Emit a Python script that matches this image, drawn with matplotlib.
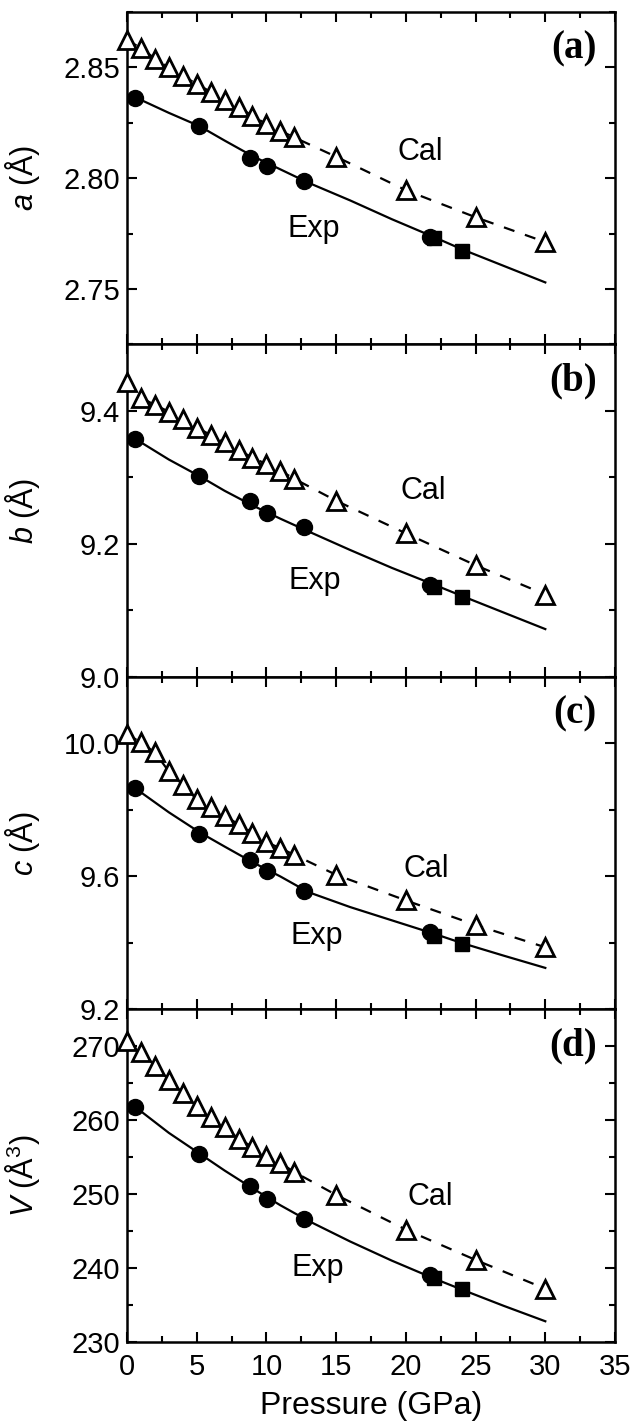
import numpy as np
import matplotlib
matplotlib.use('Agg')
from matplotlib import pyplot as plt
from matplotlib.ticker import MultipleLocator, FormatStrFormatter

plt.rcParams['font.family'] = ['Liberation Sans', 'DejaVu Sans']
plt.rcParams['mathtext.fontset'] = 'custom'
plt.rcParams['mathtext.rm'] = 'Liberation Sans'
plt.rcParams['mathtext.it'] = 'Liberation Sans:italic'

# calculated (open triangles)
p_cal = [0, 1, 2, 3, 4, 5, 6, 7, 8, 9, 10, 11, 12, 15, 20, 25, 30]
a_cal = [2.8624, 2.8587, 2.8540, 2.8500, 2.8462, 2.8425, 2.8390, 2.8354, 2.8320,
         2.8282, 2.8244, 2.8214, 2.8184, 2.8097, 2.7946, 2.7824, 2.7712]
b_cal = [9.444, 9.420, 9.409, 9.399, 9.388, 9.375, 9.364, 9.353, 9.341,
         9.330, 9.320, 9.310, 9.298, 9.265, 9.216, 9.168, 9.124]
c_cal = [10.028, 10.003, 9.973, 9.916, 9.876, 9.832, 9.808, 9.782, 9.757,
         9.732, 9.703, 9.685, 9.665, 9.605, 9.528, 9.454, 9.387]
v_cal = [270.7, 269.3, 267.4, 265.5, 263.7, 261.9, 260.5, 259.1, 257.5,
         256.4, 255.1, 254.2, 253.0, 249.9, 245.2, 241.1, 237.2]

# experiment (filled circles)
p_exp = [0.6, 5.2, 8.8, 10.05, 12.7, 21.7]
a_exp = [2.8361, 2.8234, 2.8091, 2.8056, 2.7988, 2.7736]
b_exp = [9.358, 9.302, 9.265, 9.246, 9.225, 9.138]
c_exp = [9.865, 9.728, 9.650, 9.617, 9.555, 9.433]
v_exp = [261.8, 255.5, 251.1, 249.3, 246.7, 239.0]

# experiment (filled squares)
p_sq = [22.0, 24.0]
a_sq = [2.7730, 2.7672]
b_sq = [9.135, 9.121]
c_sq = [9.420, 9.398]
v_sq = [238.6, 237.2]

# fitted curve
p_fit = [0.6, 3, 5.2, 7, 9, 11, 13, 16, 19, 22, 24, 27, 30]
a_fit = [2.8365, 2.8295, 2.8235, 2.8170, 2.8100, 2.8040, 2.7980, 2.7900,
         2.7815, 2.7735, 2.7680, 2.7605, 2.7530]
b_fit = [9.358, 9.327, 9.302, 9.280, 9.258, 9.238, 9.219, 9.191,
         9.164, 9.139, 9.122, 9.097, 9.072]
c_fit = [9.865, 9.793, 9.733, 9.690, 9.643, 9.600, 9.553, 9.508,
         9.468, 9.428, 9.400, 9.362, 9.325]
v_fit = [261.8, 258.3, 255.5, 253.2, 250.8, 248.5, 246.4, 243.6,
         241.0, 238.6, 237.1, 234.9, 232.8]

ylabels = [r'$a$ (Å)', r'$b$ (Å)', r'$c$ (Å)', r'$V$ (Å$^{3}$)']
tags = ['(a)', '(b)', '(c)', '(d)']
ylims = [(2.725, 2.875), (9.0, 9.5), (9.2, 10.2), (230, 275)]
ymajor = [0.05, 0.2, 0.4, 10]
yfmt = ['%.2f', '%.1f', '%.1f', '%d']
# text positions of Cal / Exp labels (x, y)
cal_pos = [(19.4, 2.8118), (19.6, 9.279), (19.8, 9.623), (20.1, 249.6)]
exp_pos = [(11.5, 2.777), (11.6, 9.145), (11.7, 9.420), (11.8, 240.0)]

cals = [a_cal, b_cal, c_cal, v_cal]
exps = [a_exp, b_exp, c_exp, v_exp]
sqs = [a_sq, b_sq, c_sq, v_sq]
fits = [a_fit, b_fit, c_fit, v_fit]

fig, axes = plt.subplots(4, 1, figsize=(6.33, 14.27), dpi=100, sharex=True)
fig.subplots_adjust(left=0.2006, right=0.9716, top=0.9916, bottom=0.0596, hspace=0)

for i, ax in enumerate(axes):
    ax.plot(p_cal, cals[i], '--', color='black', lw=1.6, dashes=(5, 5), zorder=1)
    ax.plot(p_fit, fits[i], '-', color='black', lw=1.6, zorder=1)
    ax.plot(p_cal, cals[i], '^', ms=13, mfc='white', mec='black', mew=2, ls='none',
            zorder=3, clip_on=False)
    ax.plot(p_exp, exps[i], 'o', ms=11.5, color='black', ls='none', zorder=3)
    ax.plot(p_sq, sqs[i], 's', ms=9.5, color='black', ls='none', zorder=3)

    ax.set_xlim(0, 35)
    ax.set_ylim(*ylims[i])
    ax.xaxis.set_major_locator(MultipleLocator(5))
    ax.xaxis.set_minor_locator(MultipleLocator(2.5))
    ax.yaxis.set_major_locator(MultipleLocator(ymajor[i]))
    ax.yaxis.set_minor_locator(MultipleLocator(ymajor[i] / 2))
    ax.yaxis.set_major_formatter(FormatStrFormatter(yfmt[i]))
    ax.tick_params(which='both', direction='in', top=True, right=True, width=1.5,
                   labelsize=21)
    ax.tick_params(axis='y', pad=5)
    ax.tick_params(axis='x', pad=8)
    ax.tick_params(which='major', length=7)
    ax.tick_params(which='minor', length=4)
    for s in ax.spines.values():
        s.set_linewidth(1.8)

    ax.set_ylabel(ylabels[i], fontsize=22)
    ax.yaxis.set_label_coords(-0.175, 0.5)

    ax.text(cal_pos[i][0], cal_pos[i][1], 'Cal', fontsize=22, ha='left', va='center')
    ax.text(exp_pos[i][0], exp_pos[i][1], 'Exp', fontsize=22, ha='left', va='center')
    ax.text(0.963, 0.89, tags[i], transform=ax.transAxes, fontsize=28, fontweight='bold',
            family='Liberation Serif', ha='right', va='center')

axes[3].set_xlabel('Pressure (GPa)', fontsize=23, labelpad=7)

fig.savefig('out.png', dpi=100)
